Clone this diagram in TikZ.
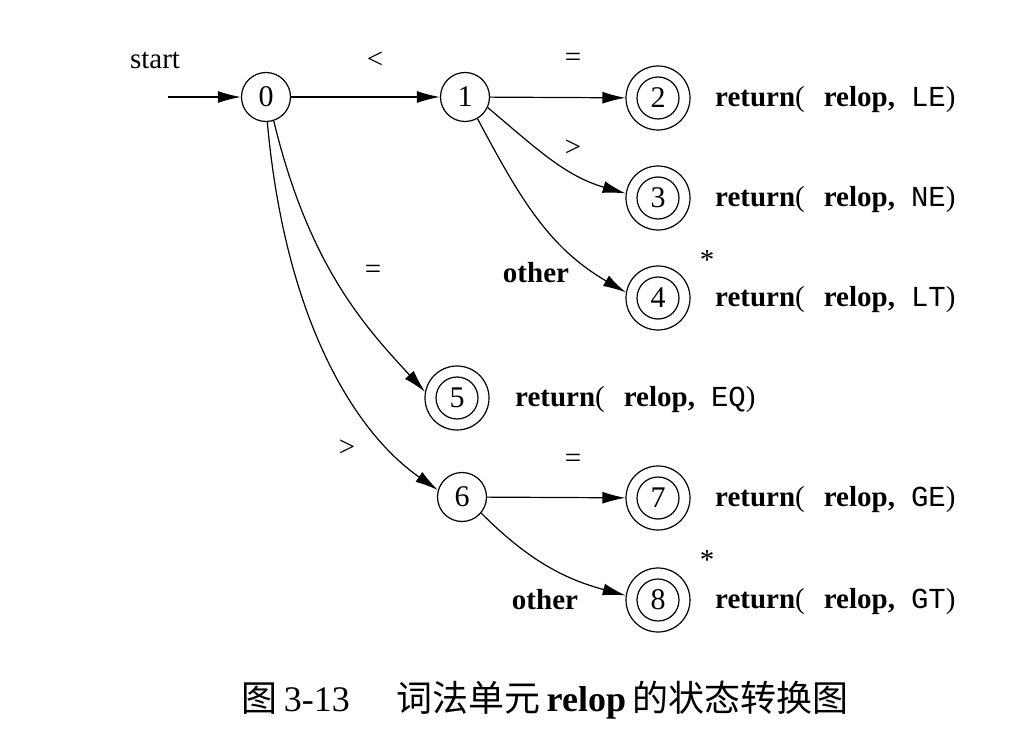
\documentclass[tikz,border=0pt]{standalone}
\usepackage{fontspec}
\setmainfont{Liberation Serif}
\setmonofont{Liberation Mono}
\newfontfamily\cjk{Noto Sans CJK SC}
\usetikzlibrary{arrows.meta}
\newcommand\retlab[1]{\textbf{return}(\hspace{19pt}\textbf{relop,}\hspace{16pt}\texttt{#1})}
\begin{document}
\begin{tikzpicture}[x=1pt,y=-1pt,
  every node/.style={font=\fontsize{29}{33}\selectfont},
  st/.style={circle,draw,line width=1.2pt,minimum size=49pt,inner sep=0pt,font=\fontsize{30}{34}\selectfont},
  acc/.style={circle,draw,line width=1.2pt,minimum size=64pt,inner sep=0pt,font=\fontsize{30}{34}\selectfont,
    path picture={\draw[line width=1.2pt] (path picture bounding box.center) circle (21pt);}},
  tr/.style={line width=1.2pt,-{Latex[length=23pt,width=12pt]}},
  lab/.style={inner sep=0pt},
  ret/.style={anchor=west,inner sep=0pt}]
\useasboundingbox[fill=white] (0,0) rectangle (1012,746);
% states
\node[st] (n0) at (266,97) {0};
\node[st] (n1) at (465,97) {1};
\node[acc] (n2) at (658,98) {2};
\node[acc] (n3) at (658,198) {3};
\node[acc] (n4) at (658,298) {4};
\node[acc] (n5) at (457,398) {5};
\node[st] (n6) at (462,497) {6};
\node[acc] (n7) at (658,498) {7};
\node[acc] (n8) at (658,600) {8};
% start
\coordinate (s) at (168,97);
\node[lab] (start) at (155,60) {start};
\draw[tr] (s) -- (n0);
% edges
\draw[tr] (n0) -- (n1);
\draw[tr] (n1) -- (n2);
\draw[tr] (n6) -- (n7);
\draw[tr] (n1.-25) to[out=-40,in=164] (n3.172);
\draw[tr] (n1.-60) to[out=-62,in=150] (n4.170);
\draw[tr] (n0.-72) .. controls +(35,145) and +(-60,-65) .. (n5.169);
\draw[tr] (n0.-87) .. controls +(18,200) and +(-82,-57) .. (n6.164);
\draw[tr] (n6.-40) to[out=-45,in=165] (n8.172);
% edge labels
\node[lab] (l01) at (375,60) {<};
\node[lab] (l12) at (573,60) {=};
\node[lab] (l13) at (573,148) {>};
\node[lab] (l14) at (536,273) {\textbf{other}};
\node[lab] (l05) at (373,272) {=};
\node[lab] (l06) at (347,448) {>};
\node[lab] (l67) at (573,461) {=};
\node[lab] (l68) at (545,600) {\textbf{other}};
% stars
\node[lab] (st4) at (707,260) {*};
\node[lab] (st8) at (707,560) {*};
% return labels
\node[ret] (r2) at (715,100) {\retlab{LE}};
\node[ret] (r3) at (715,200) {\retlab{NE}};
\node[ret] (r4) at (715,300) {\retlab{LT}};
\node[ret] (r5) at (515,400) {\retlab{EQ}};
\node[ret] (r7) at (715,500) {\retlab{GE}};
\node[ret] (r8) at (715,602) {\retlab{GT}};
% caption
\node (cap) at (545,700) {\fontsize{36}{42}\selectfont{\cjk 图}\,3-13\hspace{1.3em}{\cjk 词法单元}\,\textbf{relop}\,{\cjk 的状态转换图}};
\end{tikzpicture}
\end{document}
